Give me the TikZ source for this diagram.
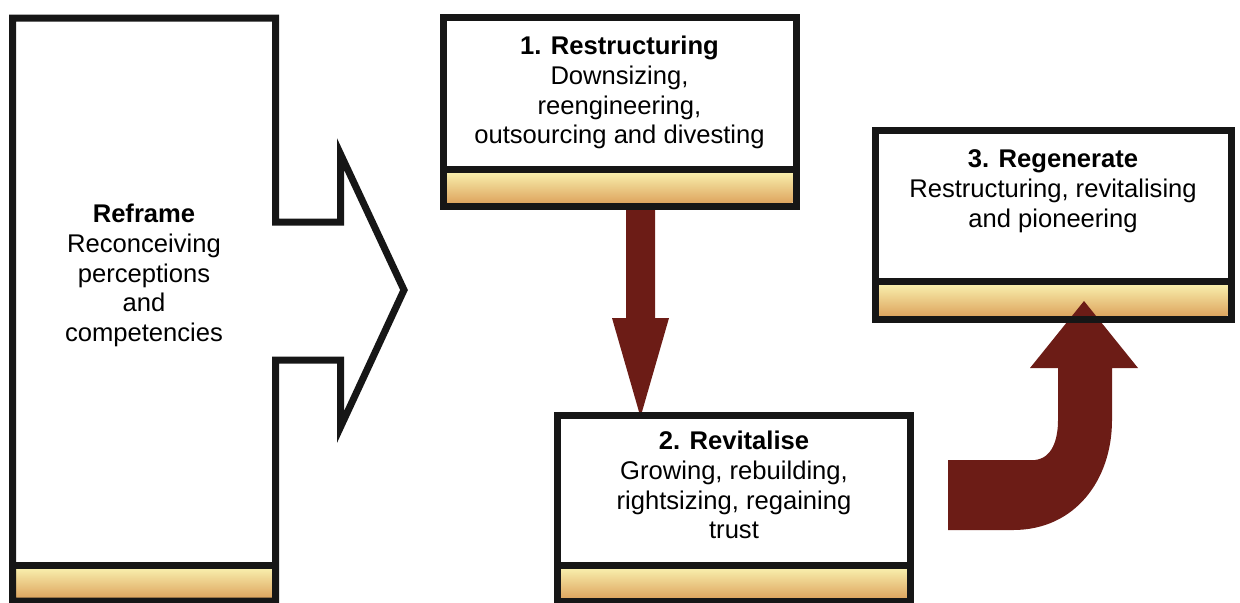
\documentclass[tikz,border=0pt]{standalone}
\usepackage{fontspec}
\setmainfont{Liberation Sans}
\usetikzlibrary{calc}

\definecolor{edge}{RGB}{22,22,22}
\definecolor{maroon}{RGB}{108,28,22}
\definecolor{goldtop}{RGB}{248,238,172}
\definecolor{goldmid}{RGB}{240,214,140}
\definecolor{goldbot}{RGB}{222,166,96}

\begin{document}
\begin{tikzpicture}[x=0.5pt,y=0.5pt,
  boxfill/.style={fill=white, draw=none, inner sep=0pt, outer sep=0pt, anchor=north west},
  outline/.style={draw=edge, line width=3.5pt, line join=miter},
  goldbar/.style={top color=goldtop, middle color=goldmid, bottom color=goldbot},
  label/.style={align=center, font=\fontsize{12.8}{14.9}\selectfont, inner sep=0pt, text=black},
  blockarrow/.style={fill=maroon, draw=none}]

\useasboundingbox (0,0) rectangle (1240,-602);

% ---- Reframe: box with an arrow head on its right side ----
\fill[white] (12.5,-18) -- (275.5,-18) -- (275.5,-222) -- (340.5,-222) -- (340.5,-154)
  -- (404,-290) -- (340.5,-427) -- (340.5,-360) -- (275.5,-360) -- (275.5,-601)
  -- (12.5,-601) -- cycle;
\shade[goldbar] (16,-568.5) rectangle (272,-597.5);
\draw[outline] (12.5,-18) -- (275.5,-18) -- (275.5,-222) -- (340.5,-222) -- (340.5,-154)
  -- (404,-290) -- (340.5,-427) -- (340.5,-360) -- (275.5,-360) -- (275.5,-601)
  -- (12.5,-601) -- cycle;
\draw[outline] (12.5,-565) -- (275.5,-565);
\node[label] (reframe) at (144,-275.5)
  {\textbf{Reframe}\\Reconceiving\\perceptions\\and\\competencies};

% ---- the three stage boxes (white body and gold bar) ----
\node[boxfill, minimum width=176.5pt, minimum height=94.5pt] (r1) at (443,-17) {};
\node[boxfill, minimum width=176.75pt, minimum height=93.25pt] (r2) at (557,-415) {};
\node[boxfill, minimum width=178pt, minimum height=94.5pt] (r3) at (875,-130) {};

\shade[goldbar] ($(r1.south west)+(3.5,3.5)$) rectangle ($(r1.south east)+(-3.5,33.5)$);
\shade[goldbar] ($(r2.south west)+(3.5,3.5)$) rectangle ($(r2.south east)+(-3.5,33)$);
\shade[goldbar] ($(r3.south west)+(3.5,3.5)$) rectangle ($(r3.south east)+(-3.5,34.5)$);

% ---- block arrows between the stages ----
\coordinate (down) at (640.5,-206);
\fill[blockarrow] (down) ++(-14.5,0) -- ++(29,0) -- ++(0,-112) -- ++(14,0)
  -- ++(-28.5,-99) -- ++(-28.5,99) -- ++(14,0) -- cycle;

\coordinate (turn) at (948,-460);
\fill[blockarrow] (turn) -- (1035,-460) .. controls (1052,-458) and (1058,-440) .. (1058,-420)
  -- (1058,-368) -- (1030,-368) -- (1084,-301) -- (1138,-368) -- (1112,-368)
  -- (1112,-420) .. controls (1112,-480) and (1075,-530) .. (1013,-530)
  -- (948,-530) -- cycle;

% ---- box outlines and bar dividers ----
\draw[outline] (r1.north west) rectangle (r1.south east);
\draw[outline] ($(r1.south west)+(0,37)$) -- ($(r1.south east)+(0,37)$);
\draw[outline] (r2.north west) rectangle (r2.south east);
\draw[outline] ($(r2.south west)+(0,36.5)$) -- ($(r2.south east)+(0,36.5)$);
\draw[outline] (r3.north west) rectangle (r3.south east);
\draw[outline] ($(r3.south west)+(0,38)$) -- ($(r3.south east)+(0,38)$);

% ---- stage texts ----
\node[label] (t1) at (619.5,-92.5)
  {\textbf{1. Restructuring}\\Downsizing,\\reengineering,\\outsourcing and divesting};
\node[label] (t2) at (734,-485)
  {\textbf{2. Revitalise}\\Growing, rebuilding,\\rightsizing, regaining\\trust};
\node[label] (t3) at (1053,-191.5)
  {\textbf{3. Regenerate}\\Restructuring, revitalising\\and pioneering};
\end{tikzpicture}
\end{document}
